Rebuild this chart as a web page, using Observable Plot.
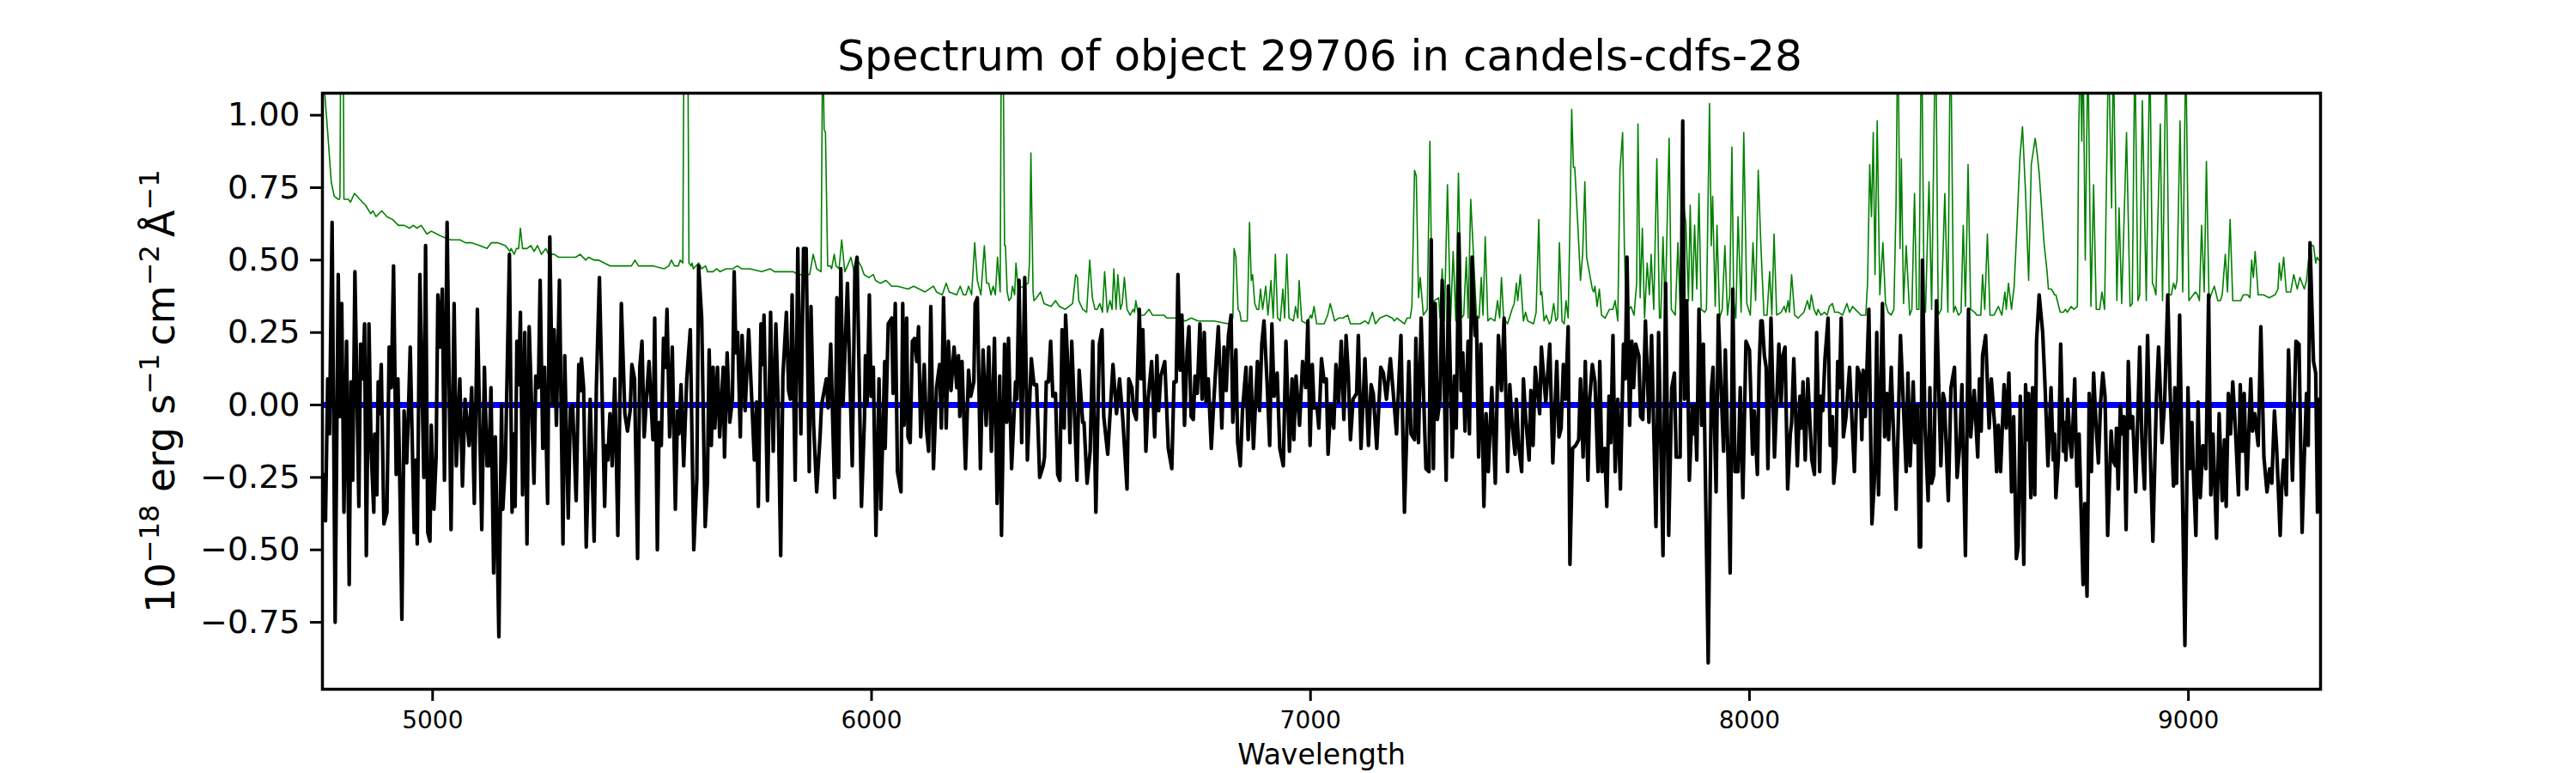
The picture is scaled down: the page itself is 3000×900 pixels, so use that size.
<!DOCTYPE html>
<html>
<head>
<meta charset="utf-8">
<script src="https://cdn.jsdelivr.net/npm/d3@7"></script>
<script src="https://cdn.jsdelivr.net/npm/@observablehq/plot@0.6"></script>
<style>html,body{margin:0;padding:0;background:#fff}svg{display:block}</style>
</head>
<body>
<div id="chart"></div>
<script>
const xTicks = [5000, 6000, 7000, 8000, 9000];
const yTicks = [-0.75, -0.5, -0.25, 0, 0.25, 0.5, 0.75, 1];
const chartTitle = "Spectrum of object 29706 in candels-cdfs-28";
const xLabel = "Wavelength";
const yLabelPlain = ["10", " erg s", "\u2009cm", "\u2009Å"];
const yLabelSup = ["−18", "−1", "−2", "−1"];

const fluxWaveA = [4752,4756,4761,4765,4771,4778,4785,4789,4793,4798,4804,4810,4814,4818,4823,4832,4836,4841,4845,4849,4855,4860,4866,4868,4873,4876,4879,4883,4889,4896,4901,4906,4911,4917,4921,4926,4930,4935,4941,4945,4949,4958,4962,4965,4971,4980,4984,4989,4994,4997,5003,5008,5012,5017,5022,5027,5033,5042,5049,5054,5062,5068,5074,5083,5089,5095,5102,5112,5118,5124,5128,5133,5139,5143,5151,5157,5160,5166,5175,5181,5185,5188,5192,5196,5200,5205,5210,5215,5220,5231,5235,5241,5245,5251,5255,5262,5267,5273,5277,5282,5289,5297,5301,5309,5314,5319,5327,5333,5337,5339,5344,5350,5359,5368,5373,5380,5392,5395,5399,5404];
const fluxValueA = [-.24,-.40,.09,-.10,.63,-.75,.45,-.04,.35,-.37,.22,-.62,.08,-.26,.46,-.35,.21,.09,.28,-.52,.28,-.16,-.37,-.10,-.31,.08,-.03,.14,-.41,-.37,.20,.06,.48,-.24,.09,-.33,-.74,-.02,-.20,-.02,.20,-.44,-.19,-.48,.45,-.25,.55,-.44,-.47,-.07,-.36,-.18,.38,.20,.40,-.26,.63,-.43,.35,-.21,.09,-.28,.02,-.14,.06,-.34,.33,-.43,.13,-.21,-.21,.06,-.58,-.11,-.80,.00,-.36,-.19,.52,-.37,-.10,-.35,.22,.07,.32,-.31,.25,-.48,.27,-.27,.10,.06,.43,-.15,.13,-.34,.58,.00,.26,-.07,.43,-.48,.17,-.39,-.01,.00,-.33,.14,.05,.16,.06,-.49,.02,-.47,.06,.44,-.35,-.14,-.19,-.03];

const fluxWaveB = [5409,5415,5422,5430,5438,5444,5450,5454,5460,5467,5472,5477,5482,5487,5493,5502,5506,5512,5516,5521,5526,5530,5534,5540,5546,5553,5558,5561,5566,5572,5579,5587,5595,5602,5606,5613,5621,5626,5630,5635,5639,5643,5649,5654,5662,5665,5671,5677,5683,5687,5691,5695,5701,5705,5712,5720,5727,5733,5738,5742,5748,5752,5755,5763,5770,5776,5782,5787,5793,5798,5806,5811,5815,5819,5826,5832,5839,5845,5851,5858,5862,5868,5875,5883,5886,5897,5901,5907,5916,5921,5925,5930,5935,5945,5956,5962,5967,5977,5984,5986,5990,5995,5999,6004,6010,6017,6021,6030,6031,6038,6046,6049,6054,6059];
const fluxValueB = [-.21,.09,-.45,.35,-.03,-.09,-.02,.14,.09,-.53,.13,.22,-.11,.02,.15,-.12,.30,-.50,-.06,-.14,.23,.13,.33,-.11,.20,-.36,-.02,-.10,.07,-.21,.09,.26,-.50,-.25,.48,.30,-.42,-.27,.19,-.14,.13,-.08,.13,-.11,.13,-.18,.18,-.06,.02,.46,.18,.25,-.11,.24,-.02,.26,.02,-.19,.01,-.35,.28,.14,.31,-.33,.32,-.16,.28,.02,-.52,.10,.32,.05,.02,.38,-.26,.54,-.10,.54,.54,-.23,.34,-.07,-.30,-.10,.00,.09,-.01,.21,-.32,.37,-.25,.47,.00,.42,-.21,.46,.51,-.35,-.04,.17,.00,.38,.03,.13,-.45,.09,-.36,.15,-.15,.28,.30,.04,.35,-.23];

const fluxWaveC = [6067,6071,6074,6080,6083,6088,6093,6098,6103,6107,6112,6120,6125,6130,6135,6141,6148,6155,6159,6164,6170,6175,6181,6188,6194,6198,6201,6206,6214,6221,6226,6233,6236,6241,6248,6254,6261,6267,6273,6280,6286,6292,6296,6303,6308,6312,6319,6328,6331,6336,6342,6349,6355,6364,6370,6376,6383,6391,6394,6398,6403,6408,6413,6419,6424,6429,6434,6439,6442,6448,6452,6456,6468,6473,6481,6484,6491,6498,6504,6511,6519,6525,6529,6538,6543,6550,6558,6565,6572,6582,6586,6593,6597,6603,6610,6614,6618,6625,6630,6638,6645,6650,6654,6659,6668,6676,6684,6689,6694,6698,6703,6707,6713];
const fluxValueC = [-.30,.35,-.07,.30,-.11,-.13,.22,.23,.15,.27,-.11,.14,-.08,-.16,.34,-.22,.06,.14,-.08,.37,-.08,.22,.05,.20,.06,.17,-.04,.15,-.22,.12,.03,.08,.35,.37,-.22,.19,-.07,.20,-.16,.23,-.34,.10,-.45,.21,-.06,.23,-.22,.08,.02,.43,-.13,.44,-.19,.16,.07,.07,-.25,-.21,-.18,.08,.08,.22,.03,.04,-.24,-.26,.26,-.08,.31,.10,-.13,.22,-.26,.12,-.06,-.06,-.27,-.16,.22,-.37,.21,.26,-.04,-.17,-.04,.14,-.03,.09,-.04,-.29,.09,.06,-.02,-.05,.33,.09,.26,-.16,.02,.15,-.11,.17,-.02,.10,.15,-.15,-.22,.08,.08,.45,.12,.31,-.07];

const fluxWaveD = [6719,6723,6728,6733,6737,6742,6748,6753,6758,6762,6767,6774,6780,6785,6790,6798,6803,6808,6813,6819,6823,6830,6834,6840,6845,6853,6858,6864,6870,6879,6884,6889,6894,6901,6907,6912,6917,6924,6930,6938,6944,6952,6958,6962,6967,6975,6982,6989,6994,6999,7004,7008,7015,7019,7025,7031,7036,7040,7046,7053,7058,7064,7070,7076,7081,7086,7091,7097,7105,7109,7115,7124,7132,7138,7143,7151,7160,7166,7173,7182,7188,7196,7206,7214,7224,7229,7237,7240,7246,7252,7263,7270,7275,7280,7284,7289,7295,7300,7309,7314,7323,7328,7332,7338,7343,7347,7352,7359,7362,7368];
const fluxValueD = [.19,.27,-.04,-.05,.10,.04,.28,.02,.25,.01,.09,-.15,.02,.15,.27,-.08,.20,.05,.24,.31,-.06,.19,-.13,-.21,-.02,.13,-.12,.13,-.15,.15,-.02,.21,.29,.08,-.14,.28,.03,.11,-.15,-.21,.22,-.16,.09,-.12,.10,-.07,.15,.06,.29,-.14,.14,-.01,-.01,-.08,.16,.08,.09,-.17,.00,-.08,.14,.01,.22,-.05,.24,.11,-.12,.02,.04,.24,-.15,.16,-.14,.07,.04,-.15,.13,.11,.02,.16,.05,-.10,.24,-.37,.15,-.10,-.12,.23,-.13,.30,-.22,-.23,.57,-.22,.35,-.05,.02,.43,-.26,.41,-.18,.10,-.08,.59,.05,.18,-.09,.22,-.10,.51];

const fluxWaveE = [7375,7378,7383,7388,7395,7400,7405,7413,7421,7428,7435,7441,7449,7454,7460,7466,7469,7474,7481,7485,7490,7498,7502,7507,7512,7522,7526,7531,7536,7545,7552,7561,7566,7571,7576,7581,7587,7591,7597,7604,7611,7615,7621,7626,7632,7636,7642,7648,7655,7659,7664,7670,7675,7680,7684,7689,7694,7700,7706,7713,7717,7721,7727,7732,7736,7741,7748,7752,7757,7763,7771,7777,7787,7793,7803,7809,7816,7823,7829,7833,7842,7848,7852,7857,7863,7870,7873,7876,7880,7885,7891,7895,7906,7913,7917,7924,7929,7934,7941,7945,7951,7956,7962,7967,7974,7979,7985,7992,8000,8007,8011,8018,8022,8026];
const fluxValueE = [.24,.30,-.18,.21,-.35,-.03,-.23,.06,-.27,.24,.05,.30,-.23,.07,-.08,-.17,.02,-.14,-.23,.09,-.04,-.19,.05,-.14,.13,-.03,.20,.10,.01,.21,-.20,.15,-.11,-.08,.14,.02,.27,-.55,-.15,-.14,-.12,.09,-.18,.15,-.26,.02,.14,.08,-.23,.15,-.23,-.15,-.35,.03,-.13,.24,-.23,.02,-.29,.21,.09,.51,-.07,.22,.06,.21,.17,-.04,-.05,.29,-.06,.24,-.42,.25,-.52,.42,-.45,.06,.11,-.18,-.18,.98,.02,.36,-.26,.00,-.10,.00,-.19,.33,-.07,.21,-.89,.05,.13,-.30,.31,.11,-.16,.19,-.18,-.58,.40,-.23,-.23,.06,-.32,.22,.19,-.17,-.02,-.24,.13,.29];

const fluxWaveF = [8029,8034,8038,8042,8049,8057,8067,8072,8076,8081,8087,8093,8096,8101,8109,8115,8119,8122,8127,8133,8142,8148,8153,8160,8163,8167,8172,8179,8184,8189,8192,8197,8201,8205,8209,8214,8220,8228,8239,8246,8252,8256,8259,8264,8272,8279,8285,8290,8294,8303,8308,8313,8317,8323,8334,8344,8357,8361,8366,8373,8377,8383,8387,8390,8394,8400,8407,8411,8415,8420,8426,8436,8441,8444,8453,8459,8467,8473,8479,8484,8492,8499,8504,8512,8520,8524,8528,8531,8538,8546,8551,8559,8563,8567,8572,8580,8585,8591,8597,8602,8608,8612,8617,8625,8629,8634,8636,8641,8645,8650,8654,8660,8668,8673,8680];
const fluxValueF = [.29,.17,.13,-.22,.30,-.18,.21,.00,.17,.20,-.29,-.10,-.06,.16,-.21,.03,-.08,.08,-.19,.09,-.19,-.24,.25,-.23,.03,-.02,.16,.30,-.14,-.04,-.27,-.18,.15,.06,.30,-.11,-.04,.13,-.23,.13,.10,-.12,.12,-.04,.33,-.41,-.25,.25,-.31,.35,-.11,.04,-.12,.13,-.36,.24,-.23,.11,-.21,.08,-.13,.00,-.49,-.49,.50,-.08,-.33,.06,-.27,-.24,.36,-.21,.04,.02,-.33,.06,.13,-.25,-.14,.07,-.52,.33,-.11,.05,-.18,.09,-.09,.17,.24,-.08,.09,-.08,-.23,-.07,-.23,.07,-.08,.11,-.30,-.04,-.53,-.49,.03,-.55,.07,-.12,.04,-.32,.06,-.31,.22,.38,.25,.08,-.21];

const fluxWaveG = [8687,8692,8695,8698,8704,8709,8715,8718,8721,8725,8730,8734,8741,8746,8751,8760,8764,8769,8774,8779,8784,8790,8795,8800,8805,8810,8816,8824,8828,8834,8836,8840,8845,8850,8853,8858,8863,8868,8873,8880,8889,8894,8900,8907,8912,8919,8927,8932,8936,8940,8946,8953,8958,8966,8969,8973,8980,8992,8999,9003,9008,9011,9017,9022,9027,9033,9040,9046,9051,9056,9064,9070,9077,9082,9086,9091,9096,9101,9107,9114,9118,9123,9127,9133,9142,9146,9151,9159,9165,9172,9179,9185,9190,9196,9201,9209,9213,9217,9223,9228,9237,9245,9252,9259,9264,9269,9273,9277,9285,9290,9294,9297];
const fluxValueG = [.06,-.19,-.10,-.32,-.18,.21,-.16,-.06,-.19,.02,-.12,-.18,.09,-.28,-.10,-.62,-.34,-.66,.04,-.23,.11,-.08,-.20,.01,.11,.03,-.45,-.09,-.19,-.21,-.08,-.29,.00,-.10,-.04,-.43,.15,-.08,-.04,-.30,.20,-.12,-.29,.24,-.11,-.47,.02,.20,.05,-.13,.02,.38,.06,-.28,.06,-.27,.31,-.83,.06,-.22,-.06,-.22,-.45,.01,-.32,-.14,-.22,.38,-.31,-.10,-.46,-.03,-.33,-.12,-.35,.04,-.10,.08,-.08,-.31,.07,-.16,.04,-.29,.09,-.09,-.03,-.14,.27,-.18,-.30,-.22,-.27,-.02,-.15,-.45,-.27,-.19,-.31,.19,-.26,.22,.21,-.44,-.18,.04,-.14,.56,.15,.11,-.37,.02];

const skyWaveA = [4749,4753,4755,4762,4769,4776,4785,4788,4789,4791,4796,4798,4808,4813,4822,4834,4847,4859,4864,4871,4884,4896,4909,4922,4935,4948,4956,4964,4974,4987,4997,5010,5023,5041,5049,5062,5075,5088,5108,5124,5134,5147,5166,5176,5179,5186,5191,5196,5200,5205,5215,5224,5231,5239,5248,5258,5264,5277,5287,5303,5326,5336,5349,5355,5368,5378,5391,5404];
const skyValueA = [1.3,1.1,1.06,.92,.77,.72,.71,.71,.72,1.4,1.4,.71,.71,.70,.73,.71,.69,.66,.67,.65,.67,.65,.64,.62,.62,.61,.62,.61,.62,.59,.60,.59,.58,.57,.57,.57,.56,.56,.55,.54,.56,.56,.55,.53,.54,.52,.54,.54,.61,.54,.54,.55,.53,.55,.52,.54,.52,.52,.51,.51,.51,.52,.50,.51,.50,.50,.49,.48];

const skyWaveB = [5424,5453,5461,5469,5479,5489,5502,5528,5538,5544,5551,5560,5564,5570,5573,5581,5584,5589,5591,5594,5600,5606,5613,5622,5626,5639,5647,5655,5668,5684,5694,5704,5723,5750,5769,5779,5789,5802,5821,5834,5859,5867,5875,5885,5888,5890,5892,5895,5900,5906,5909,5915,5919,5926,5932,5939,5945,5953,5960,5968,5976,5983,5994,6004,6009,6020,6033,6046,6059];
const skyValueB = [.48,.48,.50,.48,.48,.48,.48,.47,.48,.50,.48,.48,.50,.49,1.4,1.4,.49,.48,.49,.47,.48,.49,.47,.48,.46,.46,.47,.46,.47,.47,.48,.47,.47,.46,.47,.46,.46,.46,.46,.45,.45,.52,.47,.46,1.15,1.15,.95,.94,.48,.48,.47,.52,.48,.47,.57,.46,.48,.51,.46,.50,.48,.45,.44,.45,.43,.42,.43,.41,.41];

const skyWaveC = [6083,6096,6122,6141,6148,6161,6170,6177,6194,6202,6209,6215,6221,6228,6235,6241,6249,6257,6262,6267,6272,6277,6282,6287,6293,6296,6299,6303,6305,6309,6313,6318,6321,6326,6329,6334,6357,6360,6363,6368,6370,6376,6385,6393,6409,6419,6428,6441,6458,6465,6469,6472,6481,6490,6497,6503,6509,6514,6520,6526,6531,6537,6543,6548,6552,6557,6561,6567,6571,6576,6582,6589,6596,6599,6602,6608,6621,6632,6640,6653,6666,6673,6696,6715];
const skyValueC = [.40,.41,.39,.41,.39,.38,.42,.39,.38,.41,.38,.38,.41,.38,.56,.43,.38,.55,.42,.42,.38,.41,.38,.51,.39,1.4,1.4,.55,.55,.39,.36,.37,.41,.38,.49,.40,.42,.50,.87,.39,.36,.37,.39,.35,.34,.36,.34,.33,.35,.45,.44,.36,.33,.32,.50,.37,.33,.33,.35,.32,.46,.32,.36,.33,.47,.33,.45,.33,.35,.44,.33,.31,.33,.32,.36,.31,.31,.33,.31,.31,.31,.30,.30,.29];

const skyWaveD = [6728,6744,6780,6813,6823,6826,6830,6835,6839,6842,6852,6856,6861,6865,6868,6873,6878,6882,6886,6891,6898,6903,6910,6915,6920,6925,6931,6937,6941,6946,6951,6961,6966,6971,6974,6980,6992,7000,7003,7008,7014,7031,7039,7045,7055,7064,7074,7085,7091,7113,7124,7132,7141,7148,7158,7173,7186,7191,7197,7214,7220,7227,7231,7237,7241,7246,7250,7257,7266,7272,7277,7282,7292,7295,7300,7305,7312,7319,7325,7331,7337,7344,7349,7355,7359,7365];
const skyValueD = [.30,.29,.29,.28,.30,.54,.51,.33,.32,.29,.29,.29,.63,.43,.45,.35,.33,.33,.40,.33,.41,.31,.43,.30,.52,.30,.29,.40,.30,.52,.30,.29,.34,.30,.43,.29,.28,.31,.30,.34,.28,.28,.31,.35,.29,.30,.30,.31,.28,.28,.29,.28,.32,.28,.30,.31,.30,.29,.30,.28,.30,.30,.34,.81,.79,.37,.44,.31,.33,.91,.33,.36,.37,.30,.47,.29,.76,.29,.53,.29,.80,.30,.31,.51,.30,.71];

const skyWaveE = [7378,7384,7389,7393,7398,7404,7410,7420,7426,7431,7435,7440,7449,7459,7464,7469,7472,7478,7485,7490,7495,7508,7514,7520,7524,7527,7532,7537,7544,7548,7554,7559,7563,7567,7573,7578,7582,7587,7591,7595,7599,7602,7609,7615,7620,7625,7629,7635,7642,7645,7648,7653,7658,7663,7671,7681,7689,7694,7700,7705,7711,7715,7719,7726,7730,7737,7743,7746,7751,7756,7761,7767,7772,7776,7782,7789,7795,7798,7803,7808,7817,7822,7831,7837,7842,7847,7855,7861,7865,7870,7875,7880,7885,7890,7898,7902,7909,7913,7916,7922,7926,7932,7938,7944,7950,7955,7960,7964,7969,7974,7981,7987,7994,8002,8008,8014,8020,8026];
const skyValueE = [.31,.30,.44,.31,.58,.29,.30,.29,.36,.30,.44,.30,.28,.33,.35,.42,.36,.45,.29,.32,.29,.28,.32,.64,.38,.39,.29,.31,.28,.29,.35,.29,.30,.56,.29,.28,.36,.30,.62,1.02,.82,.82,.62,.43,.52,.77,.51,.46,.40,.39,.41,.34,.40,.31,.30,.33,.33,.36,.29,.81,.94,.55,.31,.33,.34,.31,.42,.97,.37,.61,.30,.49,.38,.52,.33,.85,.30,.30,.58,.33,.92,.33,.31,.56,.33,.72,.63,.36,.69,.36,.62,.40,.73,.33,.32,.33,1.04,.55,.72,.34,.62,.30,.33,.55,.31,.38,.89,.36,.30,.65,.32,.94,.35,.31,.56,.36,.81,.55];

const skyWaveF = [8033,8040,8046,8051,8056,8062,8072,8079,8083,8088,8091,8096,8103,8111,8124,8132,8137,8141,8147,8153,8156,8163,8171,8177,8182,8189,8194,8203,8212,8222,8228,8235,8241,8248,8254,8265,8269,8274,8278,8282,8286,8291,8297,8304,8310,8316,8323,8329,8334,8338,8343,8346,8351,8357,8365,8370,8376,8381,8386,8392,8398,8401,8409,8415,8424,8430,8437,8445,8452,8458,8465,8469,8476,8482,8487,8492,8498,8504,8513,8518,8527,8531,8536,8542,8548,8557,8567,8575,8582,8585,8590,8597,8603,8610,8616,8622,8629,8636,8642,8651,8656,8660,8665,8671,8678,8681];
const skyValueF = [.31,.31,.46,.31,.59,.31,.32,.34,.32,.36,.32,.45,.31,.30,.32,.36,.33,.38,.33,.31,.33,.31,.32,.31,.34,.35,.32,.32,.31,.35,.32,.34,.33,.32,.31,.31,.42,.83,.65,.94,.45,.98,.38,.56,.35,.32,.31,.33,.70,1.35,.54,.85,.35,.55,.31,.33,.73,.33,.33,1.35,.33,.32,.77,.33,1.35,.31,.33,.73,.32,1.35,.32,.34,.31,.32,.62,.34,.83,.33,.32,.31,.31,.45,.33,.59,.31,.31,.34,.31,.39,.33,.42,.33,.41,.64,.85,.96,.73,.43,.83,.92,.86,.80,.69,.56,.46,.40];

const skyWaveG = [8687,8692,8695,8698,8703,8708,8715,8720,8724,8733,8739,8747,8750,8754,8757,8760,8765,8771,8778,8784,8790,8798,8803,8809,8818,8825,8829,8837,8842,8848,8859,8867,8872,8878,8885,8889,8895,8904,8912,8918,8921,8926,8936,8941,8949,8956,8961,8966,8970,8974,8981,8987,8994,9001,9011,9016,9021,9025,9030,9036,9041,9047,9054,9059,9067,9073,9077,9084,9089,9095,9101,9109,9119,9125,9135,9140,9144,9148,9152,9159,9171,9184,9197,9204,9207,9211,9217,9223,9233,9240,9248,9254,9264,9269,9277,9285,9290,9293,9297];
const skyValueG = [.40,.39,.38,.38,.35,.32,.32,.33,.32,.34,.33,.34,.94,1.25,.91,1.25,.50,1.25,.34,.76,.33,.33,.39,.33,1.25,.68,1.25,.36,.68,.35,.94,.34,.35,1.25,.36,.38,1.05,.36,1.25,.42,.41,.38,.97,.36,1.25,.38,.38,.42,.40,.43,.98,.39,1.25,.36,.38,.39,.38,.36,.62,.39,.84,.36,.39,.41,.36,.36,.38,.52,.39,.64,.36,.36,.36,.38,.38,.37,.50,.44,.53,.38,.38,.37,.38,.40,.49,.43,.51,.39,.39,.45,.40,.44,.40,.43,.55,.55,.49,.51,.50];

const zeroLevel = [0];

const fluxWave = [...fluxWaveA, ...fluxWaveB, ...fluxWaveC, ...fluxWaveD, ...fluxWaveE, ...fluxWaveF, ...fluxWaveG];
const fluxValue = [...fluxValueA, ...fluxValueB, ...fluxValueC, ...fluxValueD, ...fluxValueE, ...fluxValueF, ...fluxValueG];
const skyWave = [...skyWaveA, ...skyWaveB, ...skyWaveC, ...skyWaveD, ...skyWaveE, ...skyWaveF, ...skyWaveG];
const skyValue = [...skyValueA, ...skyValueB, ...skyValueC, ...skyValueD, ...skyValueE, ...skyValueF, ...skyValueG];

const fluxTable = d3.range(Math.min(fluxWave.length, fluxValue.length)).map(i => ({w: fluxWave[i], f: fluxValue[i]}));
const skyTable = d3.range(Math.min(skyWave.length, skyValue.length)).map(i => ({w: skyWave[i], f: skyValue[i]}));
const yLabel = yLabelPlain.map((p, i) => p + yLabelSup[i]).join("");

const chart = Plot.plot({
  width: 3000,
  height: 900,
  marginLeft: 375,
  marginRight: 298,
  marginTop: 108,
  marginBottom: 98,
  style: {fontFamily: "'DejaVu Sans', sans-serif", background: "#fff", color: "#000"},
  x: {domain: [4749, 9301], label: null},
  y: {domain: [-0.981, 1.076], label: null},
  marks: [
    Plot.line(skyTable, {x: "w", y: "f", stroke: "#008000", strokeWidth: 1.6, clip: true}),
    Plot.ruleY(zeroLevel, {stroke: "#0000ff", strokeWidth: 7}),
    Plot.line(fluxTable, {x: "w", y: "f", stroke: "#000", strokeWidth: 4.2, clip: true}),
    Plot.frame({stroke: "#000", strokeWidth: 3.5}),
    Plot.axisX({ticks: xTicks, tickFormat: d3.format("d"), tickSize: 14, tickPadding: 12, fontSize: 28, label: null, strokeWidth: 3}),
    Plot.axisY({ticks: yTicks, tickFormat: d3.format(".2f"), tickSize: 14, tickPadding: 12, fontSize: 38, label: null, strokeWidth: 3}),
    Plot.text([xLabel], {frameAnchor: "bottom", lineAnchor: "middle", textAnchor: "middle", dy: 77, fontSize: 33, fill: "#000"}),
    Plot.text([chartTitle], {frameAnchor: "top", lineAnchor: "middle", textAnchor: "middle", dx: -2, dy: -43, fontSize: 50, fill: "#000"}),
    Plot.text([yLabel], {frameAnchor: "left", lineAnchor: "middle", textAnchor: "middle", dx: -187, fontSize: 46, rotate: -90, fill: "#000"})
  ]
});

d3.select(chart).selectAll("text").filter(function () { return this.textContent === yLabel; }).each(function () {
  const label = d3.select(this).text(null);
  yLabelPlain.forEach((plain, i) => {
    label.append("tspan").attr("dy", i === 0 ? 0 : 18).text(plain);
    label.append("tspan").attr("dy", -18).attr("font-size", 32).text(yLabelSup[i]);
  });
});

document.getElementById("chart").appendChild(chart);
</script>
</body>
</html>
